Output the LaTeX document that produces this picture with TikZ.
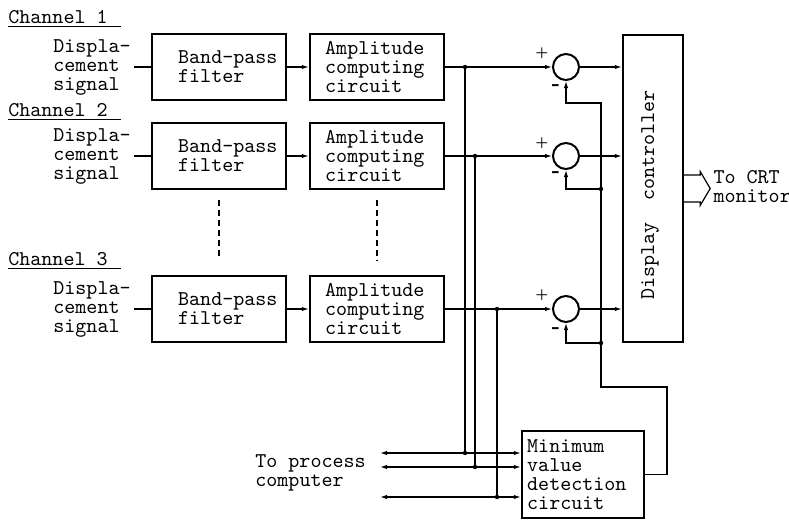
\documentclass[tikz,border=0pt]{standalone}
\usepackage{fontspec}
\usetikzlibrary{positioning,calc,arrows.meta}
\tikzset{
  block box/.style={
    rectangle, draw, line width=1.2pt,
    minimum width=67pt, minimum height=33pt,
    inner sep=0pt,
  },
  block text/.style={
    font=\ttfamily\fontsize{10.5}{9.5}\selectfont,
    align=left, inner sep=0pt, anchor=west,
  },
  signal text/.style={block text, inner xsep=1.5pt},
  sum node/.style={
    circle, draw, line width=1pt,
    minimum size=13pt, inner sep=0pt,
  },
  plus mark/.style={font=\bfseries\fontsize{6.5}{6.5}\selectfont, inner sep=0pt},
  minus mark/.style={font=\bfseries\fontsize{11}{11}\selectfont, inner sep=0pt},
  sig/.style={line width=0.6pt},
  sig arrow/.style={sig, -{Latex[length=3.5pt,width=2.2pt]}},
}

\begin{document}
\begin{tikzpicture}[x=0.5pt, y=-0.5pt]
\useasboundingbox (0,0) rectangle (789,520);

\def\rowA{67}   % y of channel 1
\def\rowB{156}  % y of channel 2
\def\rowC{309}  % y of channel 3

% --- Channel 1 ---
\node[block text, anchor=base west] (chanA) at (8,23) {Channel 1};
\draw[sig] ($(chanA.base west)+(0,3.5)$) -- ($(chanA.base east)+(13,3.5)$);
\node[signal text] (sigA) at (50,\rowA) {Displa-\\cement\\signal};
\node[block box] (bpfA) at (219,\rowA) {};
\node[block text] (bpfAtxt) at ([xshift=13.5pt]bpfA.west) {Band-pass\\filter};
\node[block box] (ampA) at (377,\rowA) {};
\node[block text] (ampAtxt) at ([xshift=8pt]ampA.west) {Amplitude\\computing\\circuit};
\node[sum node] (sumA) at (566,\rowA) {};
\node[plus mark] (plusA) at ($(sumA)+(-24,-14)$) {+};
\node[minus mark] (minusA) at ($(sumA)+(-10,21)$) {-};

% --- Channel 2 ---
\node[block text, anchor=base west] (chanB) at (8,116) {Channel 2};
\draw[sig] ($(chanB.base west)+(0,3.5)$) -- ($(chanB.base east)+(13,3.5)$);
\node[signal text] (sigB) at (50,\rowB) {Displa-\\cement\\signal};
\node[block box] (bpfB) at (219,\rowB) {};
\node[block text] (bpfBtxt) at ([xshift=13.5pt]bpfB.west) {Band-pass\\filter};
\node[block box] (ampB) at (377,\rowB) {};
\node[block text] (ampBtxt) at ([xshift=8pt]ampB.west) {Amplitude\\computing\\circuit};
\node[sum node] (sumB) at (566,\rowB) {};
\node[plus mark] (plusB) at ($(sumB)+(-24,-13)$) {+};
\node[minus mark] (minusB) at ($(sumB)+(-10,19)$) {-};

% --- Channel 3 ---
\node[block text, anchor=base west] (chanC) at (8,265) {Channel 3};
\draw[sig] ($(chanC.base west)+(0,3.5)$) -- ($(chanC.base east)+(13,3.5)$);
\node[signal text] (sigC) at (50,\rowC) {Displa-\\cement\\signal};
\node[block box] (bpfC) at (219,\rowC) {};
\node[block text] (bpfCtxt) at ([xshift=13.5pt]bpfC.west) {Band-pass\\filter};
\node[block box] (ampC) at (377,\rowC) {};
\node[block text] (ampCtxt) at ([xshift=8pt]ampC.west) {Amplitude\\computing\\circuit};
\node[sum node] (sumC) at (566,\rowC) {};
\node[plus mark] (plusC) at ($(sumC)+(-24,-14)$) {+};
\node[minus mark] (minusC) at ($(sumC)+(-10,22)$) {-};

% channels left out
\draw[sig, dash pattern=on 3pt off 2pt] ($(bpfB.south)+(0,10)$) -- ($(bpfC.north)+(0,-18)$);
\draw[sig, dash pattern=on 3pt off 2pt] ($(ampB.south)+(0,10)$) -- ($(ampC.north)+(0,-14)$);

% --- display controller and minimum value detection ---
\node[block box, minimum width=30pt, minimum height=153.5pt] (disp) at (653,188.5) {};
\node[block text, anchor=center, rotate=90] (disptxt) at (650,195) {Display\ \ controller};
\node[block box, minimum width=61pt, minimum height=43.5pt] (minv) at (583,474.5) {};
\node[block text] (minvtxt) at ([xshift=3pt]minv.west) {Minimum\\value\\detection\\circuit};
\node[block text] (pc) at (255,473) {To process\\computer};
\coordinate (pcend) at (380,0);

% signal path of each channel
\draw[sig] (sigA.east) -- (bpfA.west);
\draw[sig] (sigB.east) -- (bpfB.west);
\draw[sig] (sigC.east) -- (bpfC.west);
\draw[sig arrow] (bpfA.east) -- (ampA.west);
\draw[sig arrow] (bpfB.east) -- (ampB.west);
\draw[sig arrow] (bpfC.east) -- (ampC.west);
\draw[sig arrow] (ampA.east) -- (sumA.west);
\draw[sig arrow] (ampB.east) -- (sumB.west);
\draw[sig arrow] (ampC.east) -- (sumC.west);
\draw[sig arrow] (sumA.east) -- (sumA.east -| disp.west);
\draw[sig arrow] (sumB.east) -- (sumB.east -| disp.west);
\draw[sig arrow] (sumC.east) -- (sumC.east -| disp.west);

% taps down to the bus
\coordinate (jA) at (465,\rowA);
\coordinate (jAb) at (465,453);
\coordinate (jB) at (475,\rowB);
\coordinate (jBb) at (475,467);
\coordinate (jC) at (497,\rowC);
\coordinate (jCb) at (497,497);
\draw[sig] (jA) -- (jAb);
\draw[sig] (jB) -- (jBb);
\draw[sig] (jC) -- (jCb);
\draw[sig arrow] (jAb) -- (jAb -| minv.west);
\draw[sig arrow] (jBb) -- (jBb -| minv.west);
\draw[sig arrow] (jCb) -- (jCb -| minv.west);
\draw[sig arrow] (jAb) -- (jAb -| pcend);
\draw[sig arrow] (jBb) -- (jBb -| pcend);
\draw[sig arrow] (jCb) -- (jCb -| pcend);
\foreach \j in {jA,jAb,jB,jBb,jC,jCb}
  \fill (\j) circle[radius=1.1pt];

% minimum value back to the subtractors
\coordinate (fbR) at (667,387);
\coordinate (fbL) at (601,387);
\coordinate (fbA) at (601,103);
\coordinate (fbB) at (601,189);
\coordinate (fbC) at (601,343);
\draw[sig arrow] (minv.east) -| (fbR) -- (fbL) -- (fbA) -| (sumA.south);
\draw[sig arrow] (fbB) -| (sumB.south);
\draw[sig arrow] (fbC) -| (sumC.south);
\fill (fbB) circle[radius=1.1pt];
\fill (fbC) circle[radius=1.1pt];

% --- to CRT monitor ---
\draw[sig] ($(disp.east)+(0,-13.5)$) -- ++(16,0) -- ++(0,-3.5) -- ++(10,17)
  -- ++(-10,17) -- ++(0,-3.5) -- ++(-16,0);
\node[block text] (crt) at ($(disp.east)+(29,-2)$) {To CRT\\monitor};

\end{tikzpicture}
\end{document}
